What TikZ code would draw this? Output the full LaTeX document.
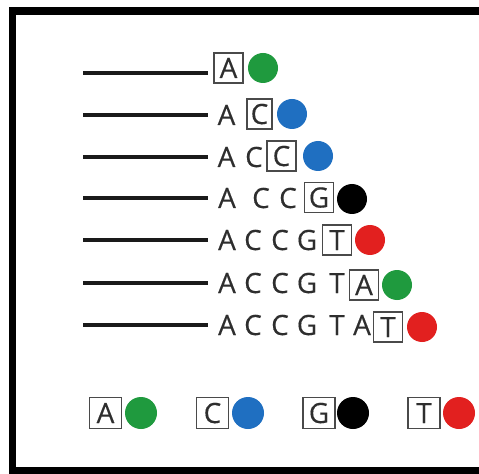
\documentclass[tikz,border=0pt]{standalone}
\usepackage{fontspec}
\setmainfont{Open Sans}[UprightFeatures={FakeBold=0.4}]
\definecolor{letter}{HTML}{2E2E2E}
\definecolor{frame}{HTML}{4A4A4A}
\definecolor{strandcol}{HTML}{1A1A1A}
\definecolor{dA}{HTML}{1F9A3E}
\definecolor{dC}{HTML}{1F6FC1}
\definecolor{dG}{HTML}{000000}
\definecolor{dT}{HTML}{E2201F}
\begin{document}
\begin{tikzpicture}[x=1bp,y=-1bp,
  base/.style={font=\fontsize{28}{30}\selectfont, text=letter, inner sep=0pt,
               text height=20bp, text depth=0pt},
  boxed/.style={base, draw=frame, line width=1.4bp, minimum width=29bp, minimum height=30bp},
  dot/.style={circle, minimum size=30bp, inner sep=0pt, draw=none},
  bigdot/.style={dot, minimum size=32bp},
  legbox/.style={boxed, minimum width=32bp, minimum height=31bp},
  strand/.style={draw=strandcol, line width=3.6bp}]
\useasboundingbox (0,0) rectangle (479,474);
\fill[white] (0,0) rectangle (479,474);
% outer frame (open on the right)
\fill[black] (9,7) rectangle (479,15);
\fill[black] (9,7) rectangle (16,474);
\fill[black] (9,467) rectangle (479,474);

% primer strands
\foreach \i/\y in {1/73,2/115,3/157,4/198,5/240,6/283,7/325}{
  \coordinate (s\i) at (83,\y);
  \coordinate (e\i) at (208,\y);
  \draw[strand] (s\i) -- (e\i);
}

% row 1
\node[boxed] (r1b) at (228.5,68) {A};
\node[dot, fill=dA] (r1d) at (263,68) {};
% row 2
\node[base] (r2a) at (226.5,115) {A};
\node[boxed, minimum width=25bp] (r2b) at (259.5,114) {C};
\node[dot, fill=dC] (r2d) at (292,114) {};
% row 3
\node[base] (r3a) at (226.5,157) {A};
\node[base] (r3c) at (254,157) {C};
\node[boxed] (r3b) at (281.5,156) {C};
\node[dot, fill=dC] (r3d) at (318,156) {};
% row 4
\node[base] (r4a) at (227,198) {A};
\node[base] (r4c) at (261,198) {C};
\node[base] (r4e) at (288,198) {C};
\node[boxed] (r4b) at (319,197.5) {G};
\node[dot, fill=dG] (r4d) at (352,199) {};
% row 5
\node[base] (r5a) at (227,240) {A};
\node[base] (r5c) at (253,240) {C};
\node[base] (r5e) at (280,240) {C};
\node[base] (r5g) at (307,240) {G};
\node[boxed] (r5b) at (337,240) {T};
\node[dot, fill=dT] (r5d) at (370,240) {};
% row 6
\node[base] (r6a) at (227,283) {A};
\node[base] (r6c) at (253,283) {C};
\node[base] (r6e) at (280,283) {C};
\node[base] (r6g) at (307,283) {G};
\node[base] (r6t) at (337,283) {T};
\node[boxed] (r6b) at (364,285) {A};
\node[dot, fill=dA] (r6d) at (397,285) {};
% row 7
\node[base] (r7a) at (227,325) {A};
\node[base] (r7c) at (253,325) {C};
\node[base] (r7e) at (280,325) {C};
\node[base] (r7g) at (307,325) {G};
\node[base] (r7t) at (337,325) {T};
\node[base] (r7u) at (362,325) {A};
\node[boxed] (r7b) at (388,327) {T};
\node[dot, fill=dT] (r7d) at (422,327) {};

% legend
\node[legbox] (la) at (105.5,413) {A};
\node[bigdot, fill=dA] (lad) at (141,413) {};
\node[legbox] (lc) at (212.5,413) {C};
\node[bigdot, fill=dC] (lcd) at (248,413) {};
\node[legbox] (lg) at (319,413) {G};
\node[bigdot, fill=dG] (lgd) at (353,413) {};
\node[legbox] (lt) at (424,413) {T};
\node[bigdot, fill=dT] (ltd) at (459,413) {};
\end{tikzpicture}
\end{document}
